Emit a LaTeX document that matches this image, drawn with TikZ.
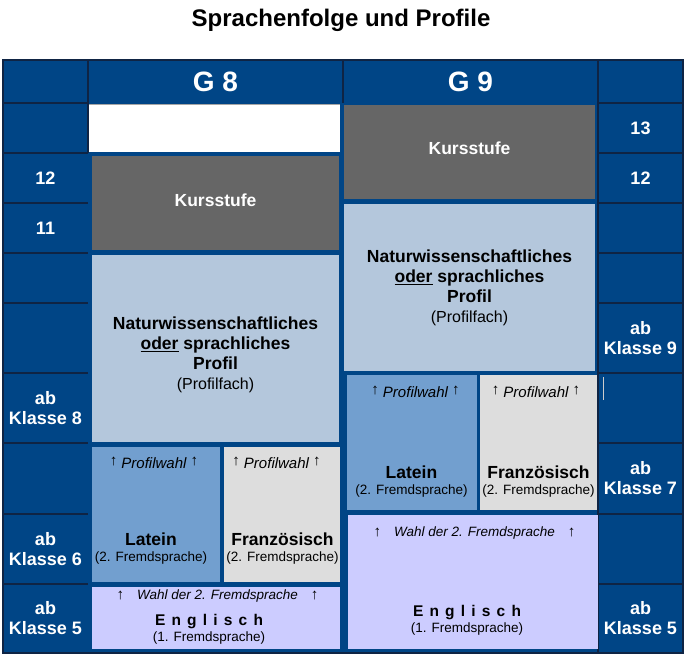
\documentclass[tikz,border=0pt]{standalone}
\usepackage{fontspec}
\setmainfont{Liberation Sans}
\usepackage{tikz}
\usetikzlibrary{calc}

\definecolor{tabblue}{HTML}{004586}
\definecolor{gridcol}{HTML}{0F2444}
\definecolor{kursgray}{HTML}{666666}
\definecolor{profblue}{HTML}{B4C7DC}
\definecolor{latblue}{HTML}{729FCF}
\definecolor{fragray}{HTML}{DDDDDD}
\definecolor{englilac}{HTML}{CCCCFF}

\newcommand{\pfeil}{\raisebox{3pt}{\normalfont\fontsize{15}{16}\selectfont ↑}}

\begin{document}
\begin{tikzpicture}[x=1pt,y=-1pt,
  gridline/.style={draw=gridcol,line width=1.5pt},
  klasse/.style={text=white,align=center,font=\fontsize{18}{20}\selectfont\bfseries},
  gheader/.style={text=white,font=\fontsize{28}{32}\selectfont\bfseries},
  profil/.style={align=center,font=\fontsize{17.5}{20}\selectfont\bfseries},
  sprache/.style={align=center,font=\fontsize{17.5}{16}\selectfont\bfseries},
  wahl/.style={font=\fontsize{15}{18}\selectfont\itshape},
  fswahl/.style={font=\fontsize{13.5}{16}\selectfont\itshape}]
  \useasboundingbox (0,0) rectangle (696,669);

  %% Title
  \node[font=\fontsize{24}{28}\selectfont\bfseries] (TITLE) at (341,20.5) {Sprachenfolge und Profile};

  %% Table background
  \fill[tabblue] (3,60) rectangle (683,653);

  %% Grid of the label columns
  \foreach \y in {103,153,203,253,303,373,443,514,584}
  {
    \draw[gridline] (3,\y) -- (88,\y);
    \draw[gridline] (598,\y) -- (683,\y);
  }
  \draw[gridline] (88,60) -- (88,153);
  \draw[gridline] (343,60) -- (343,103);
  \draw[gridline] (598,60) -- (598,653);
  \draw[gridline] (3,60) rectangle (683,653);

  %% Class labels
  \foreach \y/\txt [count=\i] in {178/12, 228/11, 408/{ab\\Klasse 8}, 549/{ab\\Klasse 6}, 618.5/{ab\\Klasse 5}}
    \node[klasse] (LK\i) at (45.5,\y) {\txt};
  \foreach \y/\txt [count=\i] in {128/13, 178/12, 338/{ab\\Klasse 9}, 478.5/{ab\\Klasse 7}, 618.5/{ab\\Klasse 5}}
    \node[klasse] (RK\i) at (640.5,\y) {\txt};
  \draw[gray!40, line width=1pt] (603,377) -- (603,400);

  %% Column heads
  \node[gheader] (G8) at (215.5,82) {G 8};
  \node[gheader] (G9) at (470.5,82) {G 9};

  %% G8 column
  \fill[white] (89,104) rectangle (340,152);
  \draw[gray!70, line width=1pt] (89,104.5) -- (340,104.5);
  \fill[kursgray] (92,156) rectangle (339,250);
  \node[profil, text=white] (KURS8) at (215.5,200.5) {Kursstufe};
  \fill[profblue] (92,255) rectangle (339,442);
  \node[profil] (PROF8) at (215.5,354.6)
    {Naturwissenschaftliches\\\underline{oder} sprachliches\\Profil\\{\mdseries\fontsize{16}{20}\selectfont (Profilfach)}};
  \fill[latblue] (92,447) rectangle (220,582);
  \fill[fragray] (224,447) rectangle (340,582);
  \node[wahl] (PW8a) at (154,463) {\pfeil\ Profilwahl \pfeil};
  \node[wahl] (PW8b) at (276.5,463) {\pfeil\ Profilwahl \pfeil};
  \node[sprache] (LAT8) at (151,549)
    {Latein\\{\mdseries\fontsize{13.5}{16}\selectfont (2. Fremdsprache)}};
  \node[sprache] (FRA8) at (282.5,549)
    {Französisch\\{\mdseries\fontsize{13.5}{16}\selectfont (2. Fremdsprache)}};
  \fill[englilac] (92,587) rectangle (340,649);
  \node[fswahl] (FW8) at (217.5,596)
    {{\normalfont\fontsize{15}{16}\selectfont ↑}\hspace{13pt}Wahl der 2. Fremdsprache\hspace{13pt}{\normalfont\fontsize{15}{16}\selectfont ↑}};
  \node[sprache] (ENG8) at (209,629.7)
    {{\fontsize{15.5}{16}\selectfont\addfontfeature{LetterSpace=40}Englisch}\\{\mdseries\fontsize{13.5}{16}\selectfont (1. Fremdsprache)}};

  %% G9 column
  \fill[kursgray] (344,105) rectangle (595,199);
  \node[profil, text=white] (KURS9) at (469.5,148.5) {Kursstufe};
  \fill[profblue] (344,204) rectangle (595,371);
  \node[profil] (PROF9) at (469.5,287.8)
    {Naturwissenschaftliches\\\underline{oder} sprachliches\\Profil\\{\mdseries\fontsize{16}{20}\selectfont (Profilfach)}};
  \fill[latblue] (347,375) rectangle (477,510);
  \fill[fragray] (480,375) rectangle (597,510);
  \node[wahl] (PW9a) at (415.5,392.2) {\pfeil\ Profilwahl \pfeil};
  \node[wahl] (PW9b) at (536,392.2) {\pfeil\ Profilwahl \pfeil};
  \node[sprache] (LAT9) at (411.5,482)
    {Latein\\{\mdseries\fontsize{13.5}{16}\selectfont (2. Fremdsprache)}};
  \node[sprache] (FRA9) at (538.5,482)
    {Französisch\\{\mdseries\fontsize{13.5}{16}\selectfont (2. Fremdsprache)}};
  \fill[englilac] (348,515) rectangle (598,649);
  \node[fswahl] (FW9) at (474.5,533.5)
    {{\normalfont\fontsize{15}{16}\selectfont ↑}\hspace{13pt}Wahl der 2. Fremdsprache\hspace{13pt}{\normalfont\fontsize{15}{16}\selectfont ↑}};
  \node[sprache] (ENG9) at (467,620.4)
    {{\fontsize{15.5}{16}\selectfont\addfontfeature{LetterSpace=40}Englisch}\\{\mdseries\fontsize{13.5}{16}\selectfont (1. Fremdsprache)}};
\end{tikzpicture}
\end{document}
